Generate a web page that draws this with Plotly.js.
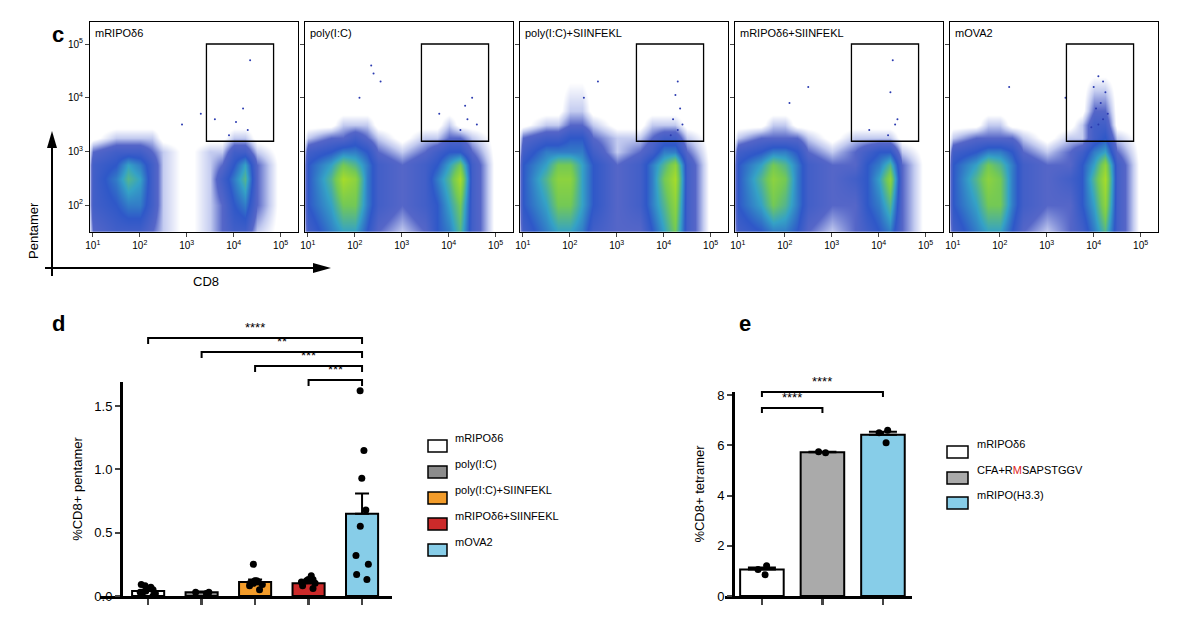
<!DOCTYPE html>
<html>
<head>
<meta charset="utf-8">
<script src="https://cdn.plot.ly/plotly-3.0.1.min.js"></script>
<style>body{margin:0;background:#fff}#fig{width:1200px;height:631px}</style>
</head>
<body>
<div id="fig"></div>
<script>
// ---- panel c: flow plots (log10 CD8 / log10 pentamer density grid) ----
const flowNames = ['mRIPOδ6', 'poly(I:C)', 'poly(I:C)+SIINFEKL', 'mRIPOδ6+SIINFEKL', 'mOVA2'];
const gridX = [0.9, 1, 1.5, 1.75, 2, 2.25, 2.5, 3, 3.5, 3.75, 4, 4.25, 4.5, 5, 5.4];
const gridY = [1.5, 2, 2.5, 2.75, 3, 3.25, 3.5, 3.75, 4.5];
const dens1 = [
  [0,2,3,3,3,2,1,0,1,2,3,3,1,0,0],
  [0,3,4,5,5,3,1,0,1,2,4,5,2,0,0],
  [0,3,5,7,6,3,1,0,1,3,5,7,2,0,0],
  [0,3,4,6,5,3,1,0,1,2,4,6,2,0,0],
  [0,2,3,3,3,2,1,0,1,1,3,3,1,0,0],
  [0,0,1,1,1,1,0,0,0,0,1,1,0,0,0],
  [0,0,0,0,0,0,0,0,0,0,0,0,0,0,0],
  [0,0,0,0,0,0,0,0,0,0,0,0,0,0,0],
  [0,0,0,0,0,0,0,0,0,0,0,0,0,0,0]];
const dens2 = [
  [0,3,5,6,6,4,2,1,2,4,5,7,3,0,0],
  [0,4,6,8,8,5,3,2,3,4,6,8,3,0,0],
  [0,4,7,10,9,5,3,2,3,5,7,10,3,0,0],
  [0,4,6,8,7,5,3,2,3,4,6,8,3,0,0],
  [0,3,4,5,5,4,2,1,2,3,4,4,2,0,0],
  [0,1,2,2,3,2,1,0,1,1,2,2,1,0,0],
  [0,0,0,1,1,1,0,0,0,0,1,0,0,0,0],
  [0,0,0,0,0,0,0,0,0,0,0,0,0,0,0],
  [0,0,0,0,0,0,0,0,0,0,0,0,0,0,0]];
const dens3 = [
  [0,3,5,6,6,5,3,2,2,4,6,8,3,0,0],
  [0,4,6,8,8,6,4,2,3,5,7,9,3,0,0],
  [0,4,7,9,9,6,4,2,3,5,8,10,3,0,0],
  [0,4,6,8,8,6,4,2,3,5,7,9,3,0,0],
  [0,3,5,5,5,5,3,1,2,3,5,5,2,0,0],
  [0,2,3,3,4,4,2,1,1,2,3,3,1,0,0],
  [0,0,1,1,2,2,1,0,0,1,1,1,0,0,0],
  [0,0,0,0,1,1,0,0,0,0,0,0,0,0,0],
  [0,0,0,0,0,0,0,0,0,0,0,0,0,0,0]];
const dens4 = [
  [0,3,4,5,5,4,2,1,2,3,4,5,2,0,0],
  [0,4,6,8,7,5,3,2,2,4,5,7,2,0,0],
  [0,4,7,9,8,5,3,2,3,4,6,9,2,0,0],
  [0,4,6,8,7,5,3,2,2,4,5,7,2,0,0],
  [0,3,4,5,5,4,2,1,2,3,4,4,1,0,0],
  [0,1,2,2,2,2,1,0,1,1,1,1,0,0,0],
  [0,0,0,1,1,0,0,0,0,0,0,0,0,0,0],
  [0,0,0,0,0,0,0,0,0,0,0,0,0,0,0],
  [0,0,0,0,0,0,0,0,0,0,0,0,0,0,0]];
const dens5 = [
  [0,3,5,6,6,4,2,1,2,3,5,7,3,0,0],
  [0,4,6,8,8,5,3,2,2,4,6,9,3,0,0],
  [0,4,7,9,8,5,3,2,3,4,7,10,3,0,0],
  [0,4,6,8,7,5,3,2,2,4,6,9,3,0,0],
  [0,3,4,5,5,4,2,1,2,3,5,6,2,0,0],
  [0,1,2,2,2,2,1,0,1,1,3,4,1,0,0],
  [0,0,0,1,1,0,0,0,0,1,3,3,0,0,0],
  [0,0,0,0,0,0,0,0,0,0,2,2,0,0,0],
  [0,0,0,0,0,0,0,0,0,0,0,0,0,0,0]];
const flowDens = [dens1, dens2, dens3, dens4, dens5];
// sparse events (log10 CD8, log10 pentamer)
const sparseX = [
  [4.35,4.2,4.05,3.9,4.3,3.3,2.9,3.6],
  [2.35,2.4,2.55,2.1,4.5,4.35,4.4,4.25,4.6,3.8],
  [4.3,4.25,4.35,4.2,4.3,4.15,2.3,2.6,4.4],
  [4.3,4.25,4.4,2.5,2.1,3.8,4.2,4.35],
  [4.1,4.2,4.0,4.25,4.15,4.05,4.3,4.2,2.2,3.4,4.1,3.95]];
const sparseY = [
  [4.7,3.8,3.55,3.3,3.4,3.7,3.5,3.6],
  [4.6,4.45,4.3,4.0,4.0,3.85,3.6,3.4,3.5,3.7],
  [4.3,4.05,3.8,3.6,3.4,3.3,4.0,4.3,3.5],
  [4.7,4.1,3.6,4.2,3.9,3.4,3.3,3.5],
  [4.4,4.3,4.2,4.1,3.9,3.8,3.7,3.6,4.2,4.0,3.5,3.45]];
const gateX = [3.42, 4.85];
const gateY = [3.19, 5.0];

// ---- panel d ----
const dGroups = ['mRIPOδ6', 'poly(I:C)', 'poly(I:C)+SIINFEKL', 'mRIPOδ6+SIINFEKL', 'mOVA2'];
const dColors = ['#ffffff', '#8c8c8c', '#f39c2a', '#cc2a2a', '#87cde8'];
const dMeans = [0.04, 0.03, 0.11, 0.10, 0.65];
const dSem = [0.01, 0.005, 0.02, 0.015, 0.16];
const dPoints = [
  [0.02,0.05,0.07,0.03,0.0,0.08,0.06,0.04,0.09,0.01],
  [0.03,0.02,0.03],
  [0.25,0.12,0.10,0.11,0.09,0.08,0.05,0.12,0.10],
  [0.16,0.13,0.12,0.10,0.08,0.06,0.11,0.13],
  [1.62,1.15,0.93,0.68,0.55,0.32,0.25,0.17,0.13]];
const dStars = ['****', '**', '***', '***'];
const dFrom = [0, 1, 2, 3];

// ---- panel e ----
const eGroups = ['mRIPOδ6', 'CFA+R<span style="color:#e0241b">M</span>SAPSTGGV', 'mRIPO(H3.3)'];
const eColors = ['#ffffff', '#aaaaaa', '#87cde8'];
const eMeans = [1.05, 5.72, 6.42];
const eSem = [0.08, 0.02, 0.12];
const ePoints = [[1.2,0.85,1.05],[5.7,5.74],[6.6,6.1,6.5]];
const eStars = ['****', '****'];
const eTo = [1, 2];

const W = 1200, H = 631;
const px = v => v / W, py = v => 1 - v / H;
const font = {family: 'Liberation Sans, Arial, sans-serif', color: '#000'};
const traces = [], shapes = [], annotations = [];
const layout = {
  width: W, height: H, margin: {l: 0, r: 0, t: 0, b: 0},
  paper_bgcolor: '#fff', plot_bgcolor: 'rgba(0,0,0,0)', showlegend: false,
  font: Object.assign({size: 11}, font)
};

const flowLeft = [90, 305, 520, 735, 950], flowW = 208;
const sup = n => '10<sup>' + n + '</sup>';
const flowScale = [[0,'#ffffff'],[0.03,'#ffffff'],[0.1,'#c4ccf0'],[0.2,'#5566c8'],[0.4,'#2f58c8'],[0.6,'#35a2c6'],[0.8,'#74c955'],[1,'#a6dc2a']];
flowNames.forEach((name, i) => {
  const n = i + 1, xa = 'x' + n, ya = 'y' + n;
  layout['xaxis' + n] = {
    domain: [px(flowLeft[i]), px(flowLeft[i] + flowW)], range: [0.94, 5.37], anchor: ya,
    showline: true, mirror: true, linecolor: '#000', linewidth: 1, showgrid: false, zeroline: false,
    ticks: 'outside', ticklen: 4, tickvals: [1,2,3,4,5], ticktext: [1,2,3,4,5].map(sup),
    tickfont: {size: 10}
  };
  layout['yaxis' + n] = {
    domain: [py(232), py(22)], range: [1.5, 5.41], anchor: xa,
    showline: true, mirror: true, linecolor: '#000', linewidth: 1, showgrid: false, zeroline: false,
    ticks: 'outside', ticklen: 4, tickvals: [2,3,4,5], ticktext: i === 0 ? [2,3,4,5].map(sup) : ['','','',''],
    tickfont: {size: 10}
  };
  traces.push({type: 'heatmap', x: gridX, y: gridY, z: flowDens[i], zmin: 0, zmax: 10,
    zsmooth: 'best', colorscale: flowScale, showscale: false, xaxis: xa, yaxis: ya});
  traces.push({type: 'scatter', mode: 'markers', x: sparseX[i], y: sparseY[i],
    marker: {size: 2, color: '#2a3ab0'}, xaxis: xa, yaxis: ya});
  shapes.push({type: 'rect', xref: xa, yref: ya, x0: gateX[0], x1: gateX[1], y0: gateY[0], y1: gateY[1],
    line: {color: '#000', width: 1.3}});
  annotations.push({xref: 'paper', yref: 'paper', x: px(flowLeft[i] + 3), y: py(25), xanchor: 'left', yanchor: 'top',
    text: name, showarrow: false, font: {size: 11}});
});

// axis arrows for panel c
shapes.push({type: 'line', xref: 'paper', yref: 'paper', x0: px(52), x1: px(52), y0: py(276), y1: py(145), line: {color: '#000', width: 2}});
shapes.push({type: 'path', xref: 'paper', yref: 'paper', path: `M ${px(47)} ${py(148)} L ${px(57)} ${py(148)} L ${px(52)} ${py(131)} Z`, fillcolor: '#000', line: {width: 0}});
shapes.push({type: 'line', xref: 'paper', yref: 'paper', x0: px(45), x1: px(315), y0: py(268), y1: py(268), line: {color: '#000', width: 2}});
shapes.push({type: 'path', xref: 'paper', yref: 'paper', path: `M ${px(313)} ${py(263)} L ${px(313)} ${py(273)} L ${px(331)} ${py(268)} Z`, fillcolor: '#000', line: {width: 0}});
annotations.push({xref: 'paper', yref: 'paper', x: px(43), xanchor: 'right', y: py(200), text: 'Pentamer', textangle: -90, showarrow: false, font: {size: 13}});
annotations.push({xref: 'paper', yref: 'paper', x: px(191), y: py(282), text: 'CD8', showarrow: false, font: {size: 13}});

// panel letters
[['c', 50, 20], ['d', 50, 323], ['e', 745, 323]].forEach(([t, x, y]) =>
  annotations.push({xref: 'paper', yref: 'paper', x: px(x), y: py(y), text: '<b>' + t + '</b>', showarrow: false, font: {size: 22}}));

// ---- panel d bars ----
layout.xaxis6 = {domain: [px(100), px(392)], range: [-0.9, 4.56], anchor: 'y6', showline: true, linecolor: '#000', linewidth: 2.5,
  showgrid: false, zeroline: false, tickvals: [0,1,2,3,4], ticktext: ['','','','',''], ticks: 'outside', ticklen: 6, tickwidth: 2.5};
layout.yaxis6 = {domain: [py(596), py(382)], range: [0, 1.69], anchor: 'free', position: px(121), showline: true, linecolor: '#000', linewidth: 2.5,
  showgrid: false, zeroline: false, tickvals: [0, 0.5, 1, 1.5], ticktext: ['0.0','0.5','1.0','1.5'], ticks: 'outside', ticklen: 5, tickwidth: 2,
  tickfont: {size: 13}, title: {text: '%CD8+ pentamer', font: {size: 13}, standoff: 8}};
traces.push({type: 'bar', x: [0,1,2,3,4], y: dMeans, width: 0.6, xaxis: 'x6', yaxis: 'y6',
  marker: {color: dColors, line: {color: '#000', width: 2}},
  error_y: {type: 'data', array: dSem, arrayminus: dSem.map(() => 0), color: '#000', thickness: 2, width: 7}});
dPoints.forEach((pts, i) => traces.push({type: 'box', x: pts.map(() => i), y: pts, xaxis: 'x6', yaxis: 'y6',
  boxpoints: 'all', jitter: 0.7, pointpos: 0, fillcolor: 'rgba(0,0,0,0)', line: {width: 0},
  marker: {color: '#000', size: 7}, width: 0.5}));
const dLevels = [338, 352, 366, 380];
dStars.forEach((s, i) => {
  const y = dLevels[i];
  shapes.push({type: 'path', xref: 'x6', yref: 'paper', path: `M ${dFrom[i]} ${py(y + 6)} L ${dFrom[i]} ${py(y)} L 4 ${py(y)} L 4 ${py(y + 6)}`, line: {color: '#000', width: 2}});
  annotations.push({xref: 'x6', yref: 'paper', x: (dFrom[i] + 4) / 2, y: py(y - 1), yanchor: 'bottom', text: s, showarrow: false, font: {size: 13}});
});
const dLegY = [446, 472, 498, 524, 550];
dGroups.forEach((g, i) => {
  shapes.push({type: 'rect', xref: 'paper', yref: 'paper', x0: px(428), x1: px(447), y0: py(dLegY[i] + 6), y1: py(dLegY[i] - 6), fillcolor: dColors[i], line: {color: '#000', width: 1.5}});
  annotations.push({xref: 'paper', yref: 'paper', x: px(453), y: py(dLegY[i]), xanchor: 'left', text: g, showarrow: false, font: {size: 11}});
});

// ---- panel e bars ----
layout.xaxis7 = {domain: [px(725), px(912)], range: [-0.61, 2.48], anchor: 'y7', showline: true, linecolor: '#000', linewidth: 2.5,
  showgrid: false, zeroline: false, tickvals: [0,1,2], ticktext: ['','',''], ticks: 'outside', ticklen: 6, tickwidth: 2.5};
layout.yaxis7 = {domain: [py(596), py(392)], range: [0, 8.12], anchor: 'free', position: px(733), showline: true, linecolor: '#000', linewidth: 2.5,
  showgrid: false, zeroline: false, tickvals: [0,2,4,6,8], ticks: 'outside', ticklen: 5, tickwidth: 2,
  tickfont: {size: 13}, title: {text: '%CD8+ tetramer', font: {size: 13}, standoff: 8}};
traces.push({type: 'bar', x: [0,1,2], y: eMeans, width: 0.72, xaxis: 'x7', yaxis: 'y7',
  marker: {color: eColors, line: {color: '#000', width: 2}},
  error_y: {type: 'data', array: eSem, arrayminus: eSem.map(() => 0), color: '#000', thickness: 2, width: 14}});
ePoints.forEach((pts, i) => traces.push({type: 'box', x: pts.map(() => i), y: pts, xaxis: 'x7', yaxis: 'y7',
  boxpoints: 'all', jitter: 0.5, pointpos: 0, fillcolor: 'rgba(0,0,0,0)', line: {width: 0},
  marker: {color: '#000', size: 7}, width: 0.4}));
const eLevels = [408, 392];
eStars.forEach((s, i) => {
  const y = eLevels[i];
  shapes.push({type: 'path', xref: 'x7', yref: 'paper', path: `M 0 ${py(y + 5)} L 0 ${py(y)} L ${eTo[i]} ${py(y)} L ${eTo[i]} ${py(y + 5)}`, line: {color: '#000', width: 2}});
  annotations.push({xref: 'x7', yref: 'paper', x: eTo[i] / 2, y: py(y - 1), yanchor: 'bottom', text: s, showarrow: false, font: {size: 13}});
});
const eLegY = [452, 478, 503];
eGroups.forEach((g, i) => {
  shapes.push({type: 'rect', xref: 'paper', yref: 'paper', x0: px(947), x1: px(968), y0: py(eLegY[i] + 6), y1: py(eLegY[i] - 6), fillcolor: eColors[i], line: {color: '#000', width: 1.5}});
  annotations.push({xref: 'paper', yref: 'paper', x: px(975), y: py(eLegY[i]), xanchor: 'left', text: g, showarrow: false, font: {size: 11}});
});

layout.shapes = shapes;
layout.annotations = annotations;
Plotly.newPlot('fig', traces, layout, {staticPlot: true});
</script>
</body>
</html>
